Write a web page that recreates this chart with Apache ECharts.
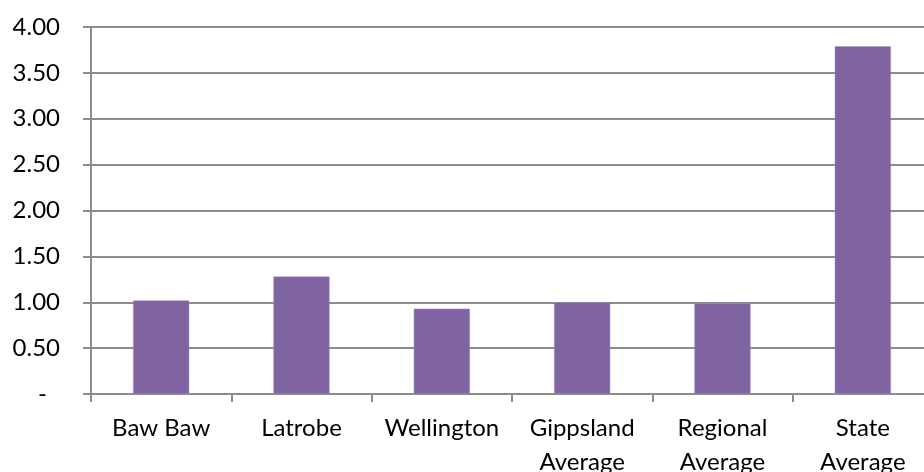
<!DOCTYPE html>
<html>
<head>
<meta charset="utf-8">
<script src="https://cdn.jsdelivr.net/npm/echarts@6/dist/echarts.min.js"></script>
<style>
  html, body { margin: 0; padding: 0; background: #ffffff; }
  #chart { width: 924px; height: 472px; }
</style>
</head>
<body>
<div id="chart"></div>
<script>
// Categories along the bottom axis
const categories = ['Baw Baw', 'Latrobe', 'Wellington', 'Gippsland\nAverage', 'Regional\nAverage', 'State\nAverage'];
// Bar heights
const values = [1.02, 1.28, 0.93, 1.00, 0.99, 3.79];
// Value axis ticks
const yTicks = [0, 0.5, 1, 1.5, 2, 2.5, 3, 3.5, 4];

const gridColor = '#8c8c8c';
const labelFont = 'Lato, "Open Sans", sans-serif';

const chart = echarts.init(document.getElementById('chart'), null, { renderer: 'canvas' });
chart.setOption({
  animation: false,
  backgroundColor: '#ffffff',
  // the last category runs a little past the right edge of the canvas
  grid: { left: 91, top: 27, bottom: 78, width: 842, containLabel: false, outerBoundsMode: 'none' },
  xAxis: {
    type: 'category',
    data: categories,
    boundaryGap: true,
    axisLine: { show: true, lineStyle: { color: gridColor, width: 2 } },
    axisTick: { show: true, length: 8, interval: 0, lineStyle: { color: gridColor, width: 2 } },
    axisLabel: {
      interval: 0,
      margin: 17,
      color: '#000000',
      fontFamily: labelFont,
      fontSize: 24,
      lineHeight: 34,
      align: 'center'
    }
  },
  yAxis: {
    type: 'value',
    min: yTicks[0],
    max: yTicks[yTicks.length - 1],
    interval: yTicks[1] - yTicks[0],
    axisLine: { show: true, lineStyle: { color: gridColor, width: 2 } },
    axisTick: { show: true, length: 8, lineStyle: { color: gridColor, width: 2 } },
    splitLine: { show: true, lineStyle: { color: gridColor, width: 2 } },
    axisLabel: {
      margin: 31,
      color: '#000000',
      fontFamily: labelFont,
      fontSize: 24,
      // zero is shown as an accounting-style dash, set in from the decimals
      formatter: v => (v === 0 ? '{dash|-}' : v.toFixed(2)),
      rich: {
        dash: { fontFamily: labelFont, fontSize: 24, color: '#000000', padding: [0, 13, 0, 0] }
      }
    }
  },
  series: [{
    type: 'bar',
    data: values,
    barWidth: '40%',
    itemStyle: { color: '#8064a2', borderColor: '#a08cc0', borderWidth: 0.5 }
  }]
});
</script>
</body>
</html>
